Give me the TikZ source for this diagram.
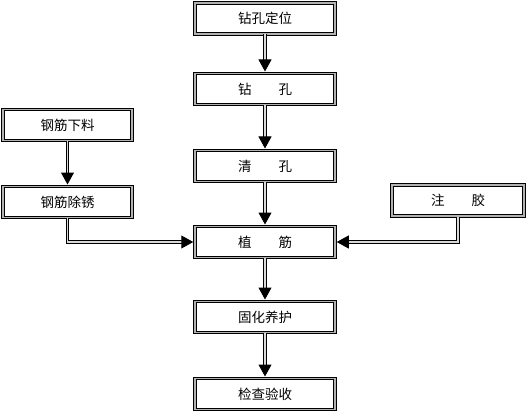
\documentclass[tikz,border=0pt]{standalone}
\usepackage{fontspec}
\newfontfamily\cjk{Noto Sans CJK SC}
\usetikzlibrary{arrows.meta}

\begin{document}
\begin{tikzpicture}[x=1pt,y=-1pt,
		box/.style={draw,double=gray!60,double distance=1.6pt,line width=1pt,
			minimum width=139.5pt,minimum height=31pt,inner sep=0pt,
			font=\cjk\fontsize{13.5}{15}\selectfont},
		flow/.style={draw,double=gray!30,double distance=1.4pt,line width=1pt,
			-{Triangle[length=12pt,width=13pt]},shorten >=1.5pt}]
		\useasboundingbox (0,0) rectangle (529,414);

		% the main column
		\node[box] (locate) at (265,18.5) {钻孔定位};
		\node[box] (drill) at (265,89) {钻\hspace{2em}孔};
		\node[box] (clean) at (265,166) {清\hspace{2em}孔};
		\node[box] (plant) at (265,242) {植\hspace{2em}筋};
		\node[box] (cure) at (265,317) {固化养护};
		\node[box] (check) at (265,394) {检查验收};

		% the side boxes
		\node[box,minimum width=129pt] (cut) at (67.5,125) {钢筋下料};
		\node[box,minimum width=129pt] (rust) at (67.5,202) {钢筋除锈};
		\node[box,minimum width=132pt] (glue) at (458,200.5) {注\hspace{2em}胶};

		% the arrows
		\draw[flow] (locate) -- (drill);
		\draw[flow] (drill) -- (clean);
		\draw[flow] (clean) -- (plant);
		\draw[flow] (plant) -- (cure);
		\draw[flow] (cure) -- (check);
		\draw[flow] (cut) -- (rust);
		\draw[flow] (rust.south) |- (plant.west);
		\draw[flow] (glue.south) |- (plant.east);
	\end{tikzpicture}
\end{document}
